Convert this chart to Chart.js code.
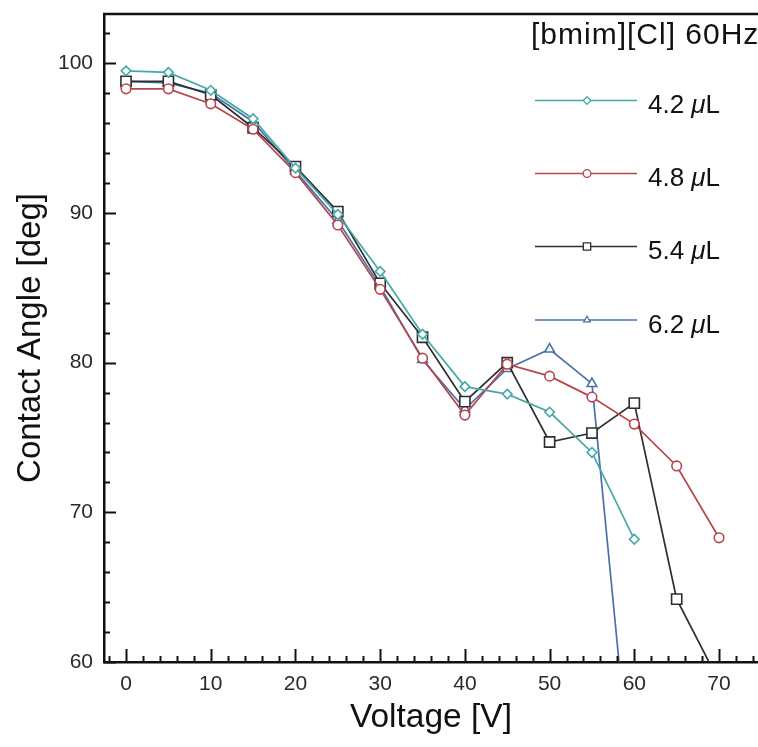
<!DOCTYPE html>
<html>
<head>
<meta charset="utf-8">
<script src="https://cdn.jsdelivr.net/npm/chart.js@4/dist/chart.umd.min.js"></script>
<style>
  html, body { margin: 0; padding: 0; background: #fff; }
  #wrap { width: 758px; height: 747px; }
</style>
</head>
<body>
<div id="wrap"><canvas id="c" width="758" height="747"></canvas></div>
<script>
// Applied voltage steps (V)
const voltages = [0, 5, 10, 15, 20, 25, 30, 35, 40, 45, 50, 55, 60, 65, 70];

// Contact angle (deg) for each droplet volume
const angle42 = [99.5, 99.4, 98.2, 96.3, 93.0, 89.9, 86.1, 81.9, 78.4, 77.9, 76.7, 74.0, 68.2];
const angle48 = [98.3, 98.3, 97.3, 95.6, 92.7, 89.2, 84.9, 80.3, 76.5, 79.9, 79.1, 77.7, 75.9, 73.1, 68.3];
const angle54 = [98.8, 98.8, 97.9, 95.7, 93.1, 90.1, 85.3, 81.7, 77.4, 80.0, 74.7, 75.3, 77.3, 64.2, 58.7];
const angle62 = [98.8, 98.7, 98.0, 96.1, 92.8, 89.5, 85.1, 80.2, 76.9, 79.6, 80.9, 78.6, 49.5];

const seriesNames = ['4.2', '4.8', '5.4', '6.2'];
const legendTitle = '[bmim][Cl] 60Hz';

const xTickValues = [0, 10, 20, 30, 40, 50, 60, 70];
const yTickValues = [60, 70, 80, 90, 100];

const FONT = '"Liberation Sans", Arial, sans-serif';
const toPoints = (vals) => vals.map((y, i) => ({ x: voltages[i], y }));

const styles = [
  { color: '#45aaa6', point: 'rectRot', r: 4.8 },
  { color: '#b8454a', point: 'circle', r: 4.8 },
  { color: '#2e2e2e', point: 'rect', r: 7.2 },
  { color: '#4a72a8', point: 'triangle', r: 5.6 }
];
const allSeries = [angle42, angle48, angle54, angle62];

const datasets = allSeries.map((vals, i) => ({
  label: seriesNames[i] + ' \u03bcL',
  data: toPoints(vals),
  borderColor: styles[i].color,
  backgroundColor: '#ffffff',
  borderWidth: 1.7,
  pointStyle: styles[i].point,
  pointRadius: styles[i].r,
  pointBorderWidth: 1.6,
  pointBorderColor: styles[i].color,
  pointBackgroundColor: '#ffffff',
  tension: 0
}));

// No extra end padding: the plot box runs to the canvas edge on the right
const noEndPadding = (s) => {
  s.paddingTop = 0; s.paddingBottom = 0; s.paddingLeft = 0; s.paddingRight = 0;
};

// Frame (top edge) plus inward major/minor tick marks
const frameTicks = {
  id: 'frameTicks',
  afterDatasetsDraw(chart) {
    const { ctx, chartArea: a, scales: { x, y } } = chart;
    ctx.save();
    ctx.strokeStyle = '#111';
    ctx.lineWidth = 2.5;
    ctx.beginPath();
    ctx.moveTo(a.left - 1, a.top);
    ctx.lineTo(a.right, a.top);
    ctx.stroke();

    ctx.lineWidth = 2;
    for (let v = 60; v <= 102; v += 2) {
      const py = Math.round(y.getPixelForValue(v)) + 0.5;
      const len = (v % 10 === 0) ? 12 : 6;
      ctx.beginPath();
      ctx.moveTo(a.left, py);
      ctx.lineTo(a.left + len, py);
      ctx.stroke();
    }
    for (let v = -2; v <= 74; v += 2) {
      const px = Math.round(x.getPixelForValue(v)) + 0.5;
      const len = (v % 10 === 0) ? 13 : 6;
      ctx.beginPath();
      ctx.moveTo(px, a.bottom);
      ctx.lineTo(px, a.bottom - len);
      ctx.stroke();
    }
    ctx.restore();
  }
};

// Legend box in the upper right
const sideLegend = {
  id: 'sideLegend',
  afterDraw(chart) {
    const { ctx } = chart;
    ctx.save();
    ctx.fillStyle = '#111';
    ctx.textBaseline = 'alphabetic';
    ctx.font = '30px ' + FONT;
    ctx.letterSpacing = '1px';
    ctx.fillText(legendTitle, 531, 44);
    ctx.letterSpacing = '0px';

    const rowY = [100.5, 173.5, 246.5, 320];
    chart.data.datasets.forEach((ds, i) => {
      const yy = rowY[i];
      ctx.strokeStyle = ds.borderColor;
      ctx.lineWidth = 1.6;
      ctx.beginPath();
      ctx.moveTo(535, yy);
      ctx.lineTo(637, yy);
      ctx.stroke();
      ctx.fillStyle = '#fff';
      ctx.lineWidth = 1.3;
      Chart.helpers.drawPoint(ctx, {
        pointStyle: ds.pointStyle,
        radius: ds.pointStyle === 'rect' ? 5.2 : 3.8,
        rotation: 0,
        borderWidth: 1.3
      }, 587, yy);
      ctx.fillStyle = '#111';
      ctx.font = '26px ' + FONT;
      const base = seriesNames[i] + ' ';
      ctx.fillText(base, 648, yy + 12.5);
      const w = ctx.measureText(base).width;
      ctx.font = 'italic 26px ' + FONT;
      ctx.fillText('\u03bc', 648 + w, yy + 12.5);
      const w2 = ctx.measureText('\u03bc').width;
      ctx.font = '26px ' + FONT;
      ctx.fillText('L', 648 + w + w2, yy + 12.5);
    });
    ctx.restore();
  }
};

new Chart(document.getElementById('c'), {
  type: 'line',
  data: { datasets },
  options: {
    responsive: false,
    animation: false,
    devicePixelRatio: 1,
    layout: { autoPadding: false, padding: { top: 14, right: 0, left: 0, bottom: 0 } },
    plugins: { legend: { display: false }, tooltip: { enabled: false } },
    scales: {
      x: {
        type: 'linear',
        min: -2.6,
        max: 74.6,
        afterBuildTicks: (s) => { s.ticks = xTickValues.map(v => ({ value: v })); },
        afterFit: (s) => { s.height = 85; noEndPadding(s); },
        grid: { display: false, drawTicks: false },
        border: { display: true, color: '#111', width: 2.5 },
        ticks: {
          padding: 10,
          color: '#2a2a2a',
          font: { family: FONT, size: 21 },
          maxRotation: 0
        },
        title: {
          display: true,
          text: 'Voltage [V]',
          color: '#111',
          font: { family: FONT, size: 33.5 },
          padding: { top: 0, bottom: 9 }
        }
      },
      y: {
        type: 'linear',
        min: 60,
        max: 103.3,
        afterBuildTicks: (s) => { s.ticks = yTickValues.map(v => ({ value: v })); },
        afterFit: (s) => { s.width = 104; noEndPadding(s); },
        grid: { display: false, drawTicks: false },
        border: { display: true, color: '#111', width: 2.5 },
        ticks: {
          padding: 11,
          color: '#2a2a2a',
          font: { family: FONT, size: 21 }
        },
        title: {
          display: true,
          text: 'Contact Angle [deg]',
          color: '#111',
          font: { family: FONT, size: 33 },
          padding: { top: 11, bottom: 0 }
        }
      }
    }
  },
  plugins: [frameTicks, sideLegend]
});
</script>
</body>
</html>
